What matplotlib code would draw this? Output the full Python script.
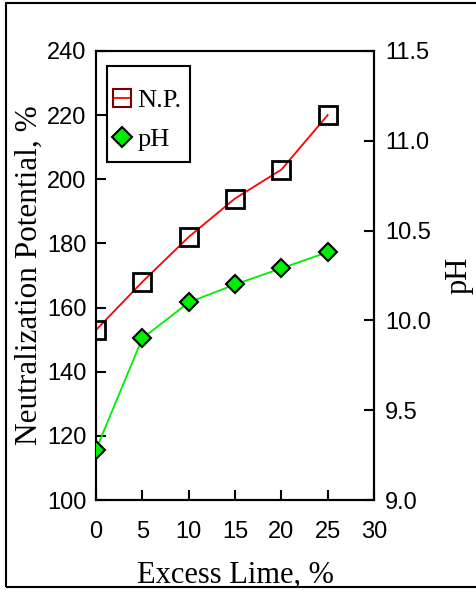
import matplotlib
matplotlib.use("Agg")
import matplotlib.pyplot as plt
from matplotlib.lines import Line2D
from matplotlib.patches import Rectangle

# Data
excess_lime = [0, 5, 10, 15, 20, 25]
neutralization_potential = [153, 168, 182, 194, 203, 220]
ph_values = [9.28, 9.90, 10.10, 10.20, 10.29, 10.38]

left_ticks = [100, 120, 140, 160, 180, 200, 220, 240]
right_ticks = [9.0, 9.5, 10.0, 10.5, 11.0, 11.5]
x_ticks = [0, 5, 10, 15, 20, 25, 30]

sans = "Liberation Sans"
serif = "Liberation Serif"

fig = plt.figure(figsize=(4.76, 5.90), dpi=100)
ax = fig.add_axes([0.2017, 0.1525, 0.584, 0.7611])
ax2 = ax.twinx()

# Outer frame around the figure
fig.patches.append(Rectangle((6 / 476, 3 / 590), 1.0, 584 / 590, transform=fig.transFigure,
                             fill=False, edgecolor="black", linewidth=1.5, clip_on=False))

ax.plot(excess_lime, neutralization_potential, color="red", linewidth=1.3, zorder=2)
ax.plot(excess_lime, neutralization_potential, linestyle="none", marker="s", markersize=13,
        markerfacecolor="none", markeredgecolor="black", markeredgewidth=2, zorder=3)

ax2.plot(excess_lime, ph_values, color="#00ee00", linewidth=1.3, zorder=2)
ax2.plot(excess_lime, ph_values, linestyle="none", marker="D", markersize=9,
         markerfacecolor="#00ee00", markeredgecolor="black", markeredgewidth=1.5, zorder=3)

ax.set_xlim(0, 30)
ax.set_ylim(100, 240)
ax2.set_ylim(9.0, 11.5)

ax.set_xticks(x_ticks)
ax.set_yticks(left_ticks)
ax2.set_yticks(right_ticks)
ax.set_xticklabels([str(v) for v in x_ticks], fontfamily=sans, fontsize=17)
ax.set_yticklabels([str(v) for v in left_ticks], fontfamily=sans, fontsize=17)
ax2.set_yticklabels([f"{v:.1f}" for v in right_ticks], fontfamily=sans, fontsize=17)

ax.tick_params(axis="x", direction="in", length=7, width=1.5, pad=15)
ax.tick_params(axis="y", direction="in", length=7, width=1.5, pad=7)
ax2.tick_params(axis="y", direction="in", length=7, width=1.5, pad=8)
for a in (ax, ax2):
    for s in a.spines.values():
        s.set_linewidth(1.5)

ax.set_xlabel("Excess Lime, %", fontfamily=serif, fontsize=22)
ax.xaxis.set_label_coords(0.5, -0.135)
ax.set_ylabel("Neutralization Potential, %", fontfamily=serif, fontsize=22.5, labelpad=2)
ax2.set_ylabel("pH", fontfamily=serif, fontsize=22, labelpad=10)

# Legend: entries without their own frame, boxed by a separate rectangle
handles = [
    Line2D([], [], color="red", linewidth=1.3, marker="s", markersize=12.5,
           markerfacecolor="none", markeredgecolor="#7a0000", markeredgewidth=1.5),
    Line2D([], [], color="none", marker="D", markersize=10,
           markerfacecolor="#00ee00", markeredgecolor="black", markeredgewidth=1.5),
]
leg = ax2.legend(handles, ["N.P.", "pH"], loc="upper left", bbox_to_anchor=(0.0612, 0.9153),
                 frameon=False, handlelength=0.68, handletextpad=0.25, borderpad=0,
                 borderaxespad=0, labelspacing=0.57, prop={"family": serif, "size": 19})
ax2.add_patch(Rectangle((0.0396, 0.7528), 0.2986, 0.2138, transform=ax2.transAxes,
                        fill=False, edgecolor="black", linewidth=1.5, zorder=5))

fig.savefig("out.png", dpi=100)
